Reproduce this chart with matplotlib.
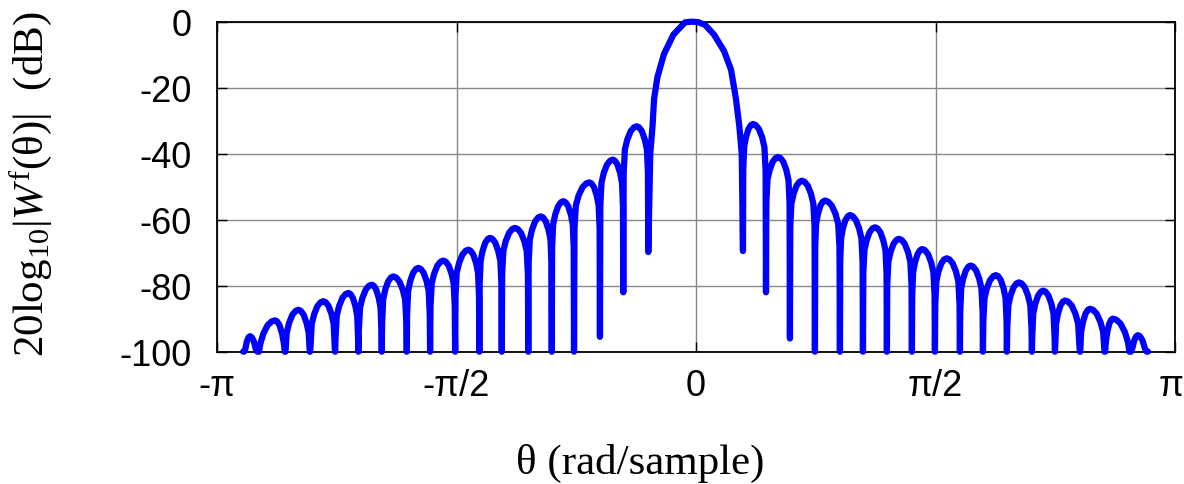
import numpy as np
import matplotlib
matplotlib.use("Agg")
import matplotlib.pyplot as plt
from matplotlib.transforms import ScaledTranslation

# ---------------- data (theta in rad, level in dB) ----------------
# main lobe
main_theta = [-0.300, -0.285, -0.275, -0.253, -0.210, -0.148, -0.072, -0.030,
              0.013, 0.060, 0.118, 0.184, 0.230, 0.262, 0.284, 0.300]
main_db = [-40.0, -31.6, -23.4, -16.8, -9.8, -3.9, -0.2, 0.0,
           -0.1, -1.0, -3.9, -8.9, -14.6, -23.4, -31.6, -40.0]

# right side lobes (ordered from the centre outwards)
right_null_theta = [0.308, 0.459, 0.616, 0.780, 0.944, 1.095, 1.252, 1.416, 1.567,
                    1.731, 1.882, 2.039, 2.203, 2.354, 2.518, 2.682, 2.846]
right_null_db = [-69.5, -82.0, -96.0, -100, -100, -100, -100, -100, -100,
                 -100, -100, -100, -100, -100, -100, -100, -100]
right_peak_theta = [0.374, 0.538, 0.695, 0.846, 1.010, 1.174, 1.331, 1.484, 1.644,
                    1.801, 1.967, 2.118, 2.277, 2.420, 2.584, 2.734, 2.898]
right_peak_db = [-31.0, -41.0, -48.2, -54.2, -58.6, -62.3, -65.8, -68.9, -71.7,
                 -73.9, -76.8, -79.0, -81.5, -84.5, -87.0, -90.0, -95.0]
right_end_theta, right_end_db = 2.964, -100.0

# left side lobes (ordered from the centre outwards)
left_null_theta = [-0.313, -0.477, -0.630, -0.800, -0.946, -1.100, -1.274, -1.421, -1.580,
                   -1.744, -1.897, -2.061, -2.214, -2.367, -2.531, -2.695, -2.870]
left_null_db = [-69.8, -82.0, -95.5, -100, -100, -100, -100, -100, -100,
                -100, -100, -100, -100, -100, -100, -100, -100]
left_peak_theta = [-0.389, -0.546, -0.700, -0.870, -1.018, -1.187, -1.351, -1.493, -1.657,
                   -1.821, -1.985, -2.127, -2.280, -2.444, -2.608, -2.761, -2.925]
left_peak_db = [-31.7, -41.8, -48.7, -54.4, -59.0, -62.5, -65.5, -69.1, -72.4,
                -74.6, -77.2, -79.7, -82.2, -84.7, -87.3, -90.5, -95.3]
left_end_theta, left_end_db = -2.970, -100.0

# side-lobe profile: fraction of the way null->peak / peak->null,
# and drop below the lobe's peak (dB)
rise_frac = [0.03, 0.12, 0.30, 0.55, 0.80]
rise_drop = [14.0, 7.0, 4.0, 1.5, 0.3]
fall_frac = [0.20, 0.45, 0.70, 0.88, 0.97]
fall_drop = [0.3, 1.5, 4.0, 7.0, 14.0]

xtick_vals = [-np.pi, -np.pi / 2, 0, np.pi / 2, np.pi]
xtick_labels = ["-π", "-π/2", "0", "π/2", "π"]
ytick_vals = [0, -20, -40, -60, -80, -100]
ytick_labels = ["0", "-20", "-40", "-60", "-80", "-100"]


def side_curve(null_t, null_d, peak_t, peak_d, end_t, end_d):
    """Polyline from the main-lobe edge outwards, through the read lobes."""
    ts, ds = [], []
    n = len(null_t)
    for i in range(n):
        ts.append(null_t[i]); ds.append(null_d[i])
        for f, dr in zip(rise_frac, rise_drop):
            ts.append(null_t[i] + f * (peak_t[i] - null_t[i]))
            ds.append(max(peak_d[i] - dr, -100.0))
        ts.append(peak_t[i]); ds.append(peak_d[i])
        nxt_t = null_t[i + 1] if i + 1 < n else end_t
        for f, dr in zip(fall_frac, fall_drop):
            ts.append(peak_t[i] + f * (nxt_t - peak_t[i]))
            ds.append(max(peak_d[i] - dr, -100.0))
    ts.append(end_t); ds.append(end_d)
    return ts, ds


rt, rd = side_curve(right_null_theta, right_null_db, right_peak_theta, right_peak_db,
                    right_end_theta, right_end_db)
lt, ld = side_curve(left_null_theta, left_null_db, left_peak_theta, left_peak_db,
                    left_end_theta, left_end_db)
theta = lt[::-1] + main_theta + rt
level = ld[::-1] + main_db + rd

# ---------------- figure ----------------
plt.rcParams["mathtext.fontset"] = "custom"
plt.rcParams["mathtext.rm"] = "Liberation Serif"
plt.rcParams["mathtext.it"] = "Liberation Serif:italic"
plt.rcParams["font.family"] = ["Liberation Sans", "DejaVu Sans"]

fig = plt.figure(figsize=(11.84, 4.85), dpi=100)
ax = fig.add_axes([217 / 1184, 1 - 352.7 / 485, (1175 - 217) / 1184, (352.7 - 22.7) / 485])

ax.plot(theta, level, color="#0000ff", lw=4.5, solid_joinstyle="round",
        solid_capstyle="round", clip_on=False, zorder=3)

ax.set_xlim(-np.pi, np.pi)
ax.set_ylim(-100, 0)
ax.set_xticks(xtick_vals)
ax.set_xticklabels(xtick_labels)
ax.set_yticks(ytick_vals)
ax.set_yticklabels(ytick_labels)
ax.tick_params(axis="both", direction="in", length=7, width=1, top=True, right=True,
               labelsize=26)
ax.tick_params(axis="x", pad=12)
ax.tick_params(axis="y", pad=18)
ax.grid(True, color="#888888", lw=1.0, zorder=0)
for s in ax.spines.values():
    s.set_linewidth(1.3)
    s.set_color("black")

# keep the right-most tick label inside the figure
last = ax.get_xticklabels()[-1]
last.set_transform(last.get_transform() + ScaledTranslation(-4 / 100, 0, fig.dpi_scale_trans))

fig.text(640 / 1184, 1 - 463 / 485, "θ (rad/sample)", family="Liberation Serif",
         fontsize=31, ha="center", va="center")
fig.text(31 / 1184, 1 - 184 / 485, r"20log$_{10}$|$\mathit{W}^{\mathrm{f}}$(θ)|  (dB)",
         family="Liberation Serif", fontsize=31, ha="center", va="center", rotation=90)

fig.savefig("out.png", dpi=100)
